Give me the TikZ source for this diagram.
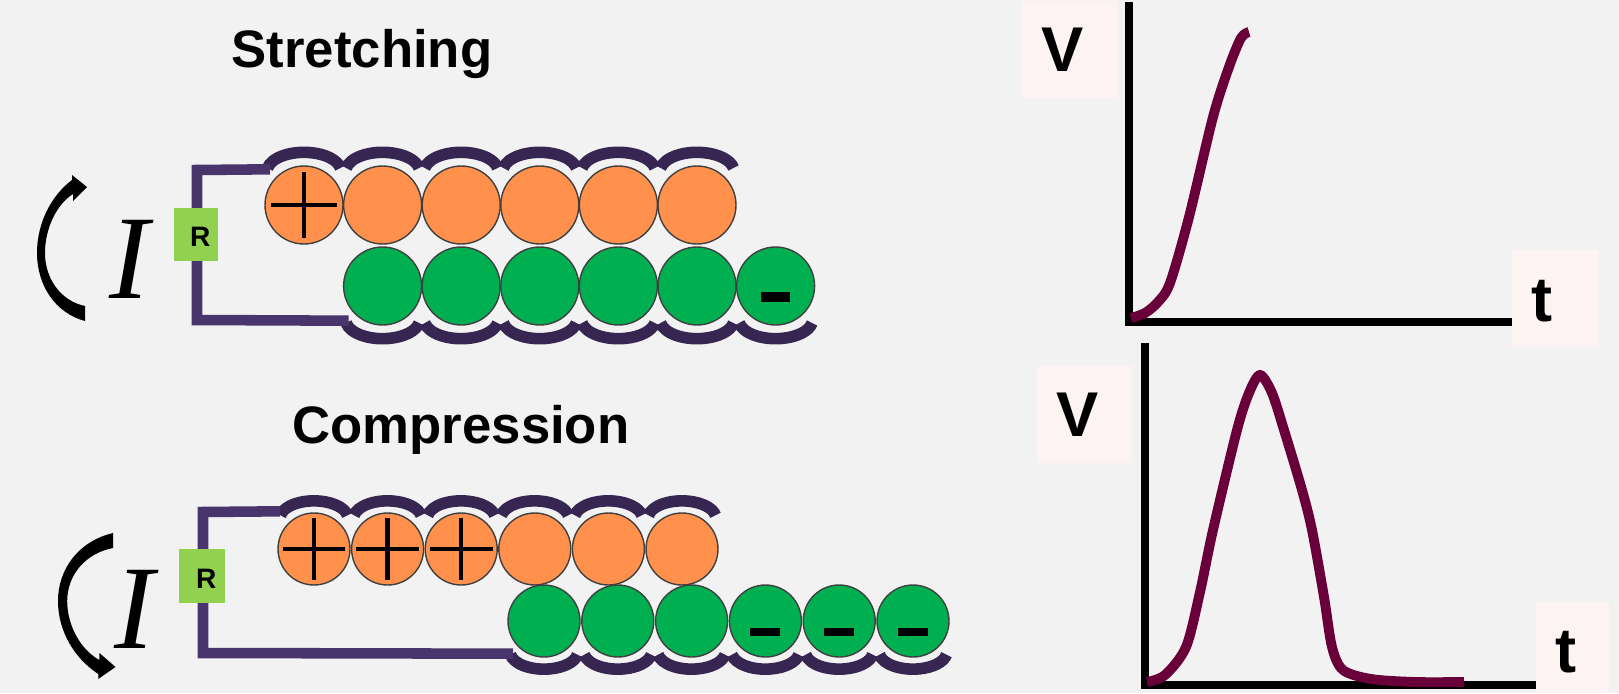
\documentclass[tikz,border=0pt]{standalone}
\usepackage{fontspec}
\setmainfont{Liberation Sans}
\newfontfamily\romanfont{Liberation Serif}
\usepackage{tikz}

\definecolor{bgray}{RGB}{242,242,242}
\definecolor{beadorange}{RGB}{255,145,77}
\definecolor{beadgreen}{RGB}{0,176,80}
\definecolor{rgreen}{RGB}{146,208,80}
\definecolor{wirepurple}{RGB}{74,52,108}
\definecolor{cappurple}{RGB}{56,38,82}
\definecolor{signalred}{RGB}{105,0,58}
\definecolor{labelpink}{RGB}{253,243,242}

\tikzset{
  ball/.style={circle, draw=black!75, line width=0.8pt, inner sep=0pt, minimum size=1.56cm},
  smallball/.style={minimum size=1.44cm},
  orangeball/.style={ball, fill=beadorange},
  greenball/.style={ball, fill=beadgreen},
  beadcap/.style={draw=cappurple, line width=6.6pt},
  wire/.style={draw=wirepurple, line width=6pt, line join=miter},
  signline/.style={draw=black, line width=2.4pt},
  rbox/.style={fill=rgreen, inner sep=0pt, text height=14pt, text depth=0pt,
    font=\fontsize{16}{16}\selectfont\bfseries},
  title/.style={anchor=base, font=\fontsize{30}{34}\selectfont\bfseries},
  current/.style={anchor=base, font=\romanfont\itshape\fontsize{68}{68}\selectfont},
  axisline/.style={draw=black, line width=4.2pt, line join=miter},
  signal/.style={draw=signalred, line width=5.6pt},
  labelbox/.style={fill=labelpink, inner sep=0pt},
  axislabel/.style={inner sep=0pt, font=\fontsize{36}{36}\selectfont\bfseries}
}

% curved current arrow, origin at the leftmost point of the arc
\newcommand{\currentarrow}{%
  \fill[black] (48,68) .. controls (18,60) and (0,32) .. (0,0)
    .. controls (0,-31) and (15,-58) .. (35,-73)
    -- (35,-78) -- (50,-66) -- (36,-52) -- (36,-59)
    .. controls (20,-49) and (8,-25) .. (8,0)
    .. controls (8,26) and (24,48) .. (48,53) -- cycle;}

\begin{document}
\begin{tikzpicture}[x=0.02cm, y=-0.02cm]
  \fill[bgray] (0,0) rectangle (1619,693);
  \useasboundingbox (0,0) rectangle (1619,693);

  % Stretching
  \node[title] (st) at (362,67) {Stretching};
  \begin{scope}[shift={(37,253)}]
    \currentarrow
  \end{scope}
  \node[current] (is) at (129,298) {I};

  \foreach \i in {1,...,6} {
    \node[orangeball] (so\i) at ({304+78.6*(\i-1)},205) {};
    \node[greenball] (sg\i) at ({382.6+78.6*(\i-1)},286) {};
  }
  \foreach \i in {1,...,6} {
    \draw[beadcap] ([xshift=-0.728cm,yshift=-0.054cm]so\i.north)
      arc[start angle=170, end angle=10, x radius=0.74cm, y radius=0.38cm];
    \draw[beadcap] ([xshift=-0.728cm,yshift=0.054cm]sg\i.south)
      arc[start angle=190, end angle=350, x radius=0.74cm, y radius=0.38cm];
  }
  \draw[signline] ([xshift=4pt]so1.west) -- ([xshift=-4pt]so1.east)
    ([yshift=-4pt]so1.north) -- ([yshift=4pt]so1.south);
  \fill[black] ([xshift=-8.2pt,yshift=-3.4pt]sg6.center) rectangle ([xshift=8.2pt,yshift=-9.1pt]sg6.center);

  % wire with resistor
  \coordinate (stl) at (197,170);
  \coordinate (sbl) at (197,320);
  \draw[wire] ([xshift=-0.68cm,yshift=-0.08cm]so1.north) -- (stl) -- (sbl)
    -- ([xshift=-0.68cm,yshift=0.1cm]sg1.south);
  \node[rbox, minimum width=0.88cm, minimum height=1.06cm] (rs) at (196,234.5) {\hspace*{5pt}R};

  % Compression
  \node[title] (ct) at (461,443) {Compression};
  \begin{scope}[shift={(58,601)}, xscale=1.15, yscale=-1]
    \currentarrow
  \end{scope}
  \node[current] (ic) at (134,648) {I};

  \foreach \i in {1,...,6} {
    \node[orangeball, smallball] (co\i) at ({314+73.6*(\i-1)},549) {};
    \node[greenball, smallball] (cg\i) at ({544+73.8*(\i-1)},621) {};
  }
  \foreach \i in {1,...,6} {
    \draw[beadcap] ([xshift=-0.67cm,yshift=-0.06cm]co\i.north)
      arc[start angle=170, end angle=10, x radius=0.68cm, y radius=0.35cm];
    \draw[beadcap] ([xshift=-0.67cm,yshift=0.06cm]cg\i.south)
      arc[start angle=190, end angle=350, x radius=0.68cm, y radius=0.35cm];
  }
  \foreach \i in {1,2,3}
    \draw[signline] ([xshift=3pt]co\i.west) -- ([xshift=-3pt]co\i.east)
      ([yshift=-3pt]co\i.north) -- ([yshift=3pt]co\i.south);
  \foreach \i in {4,5,6}
    \fill[black] ([xshift=-8.5pt,yshift=-3.7pt]cg\i.center) rectangle ([xshift=8.5pt,yshift=-8.7pt]cg\i.center);

  \coordinate (ctl) at (203,512);
  \coordinate (cbl) at (203,653);
  \draw[wire] ([xshift=-0.68cm,yshift=0.02cm]co1.north) -- (ctl) -- (cbl)
    -- ([xshift=-0.62cm,yshift=0.08cm]cg1.south);
  \node[rbox, minimum width=0.92cm, minimum height=1.08cm] (rc) at (202,576) {\hspace*{5pt}R};

  % V-t graph, stretching
  \coordinate (so) at (1129,322);
  \coordinate (sx) at (1512,322);
  \coordinate (sy) at (1129,2);
  \draw[axisline] (sx) -- (so) -- (sy);
  \draw[signal] plot[smooth] coordinates {(1131,318) (1145,313) (1158,302) (1170,283)
    (1189,217) (1213,117) (1229,67) (1241,38) (1249,32)};
  \node[labelbox, minimum width=1.9cm, minimum height=1.94cm] (svb) at (1069.5,49.5) {};
  \node[axislabel] (sv) at (1063,50) {V};
  \node[labelbox, minimum width=1.72cm, minimum height=1.94cm] (stb) at (1555,298.5) {};
  \node[axislabel] (stt) at (1542,301) {t};

  % V-t graph, compression
  \coordinate (co) at (1145,685);
  \coordinate (cx) at (1536,685);
  \coordinate (cy) at (1145,343);
  \draw[axisline] (cx) -- (co) -- (cy);
  \draw[signal] plot[smooth] coordinates {(1147,682) (1165,675) (1186,647) (1200,592)
    (1213,530) (1237,430) (1249,393) (1260,375) (1272,393) (1284,430) (1302,490)
    (1312,530) (1324,597) (1332,647) (1343,670) (1371,679) (1415,682) (1464,682)};
  \node[labelbox, minimum width=1.9cm, minimum height=1.94cm] (cvb) at (1084.5,414.5) {};
  \node[axislabel] (cv) at (1078,415) {V};
  \node[labelbox, minimum width=1.46cm, minimum height=1.82cm] (ctb) at (1572.5,647.5) {};
  \node[axislabel] (ctt) at (1566,652) {t};
\end{tikzpicture}
\end{document}
